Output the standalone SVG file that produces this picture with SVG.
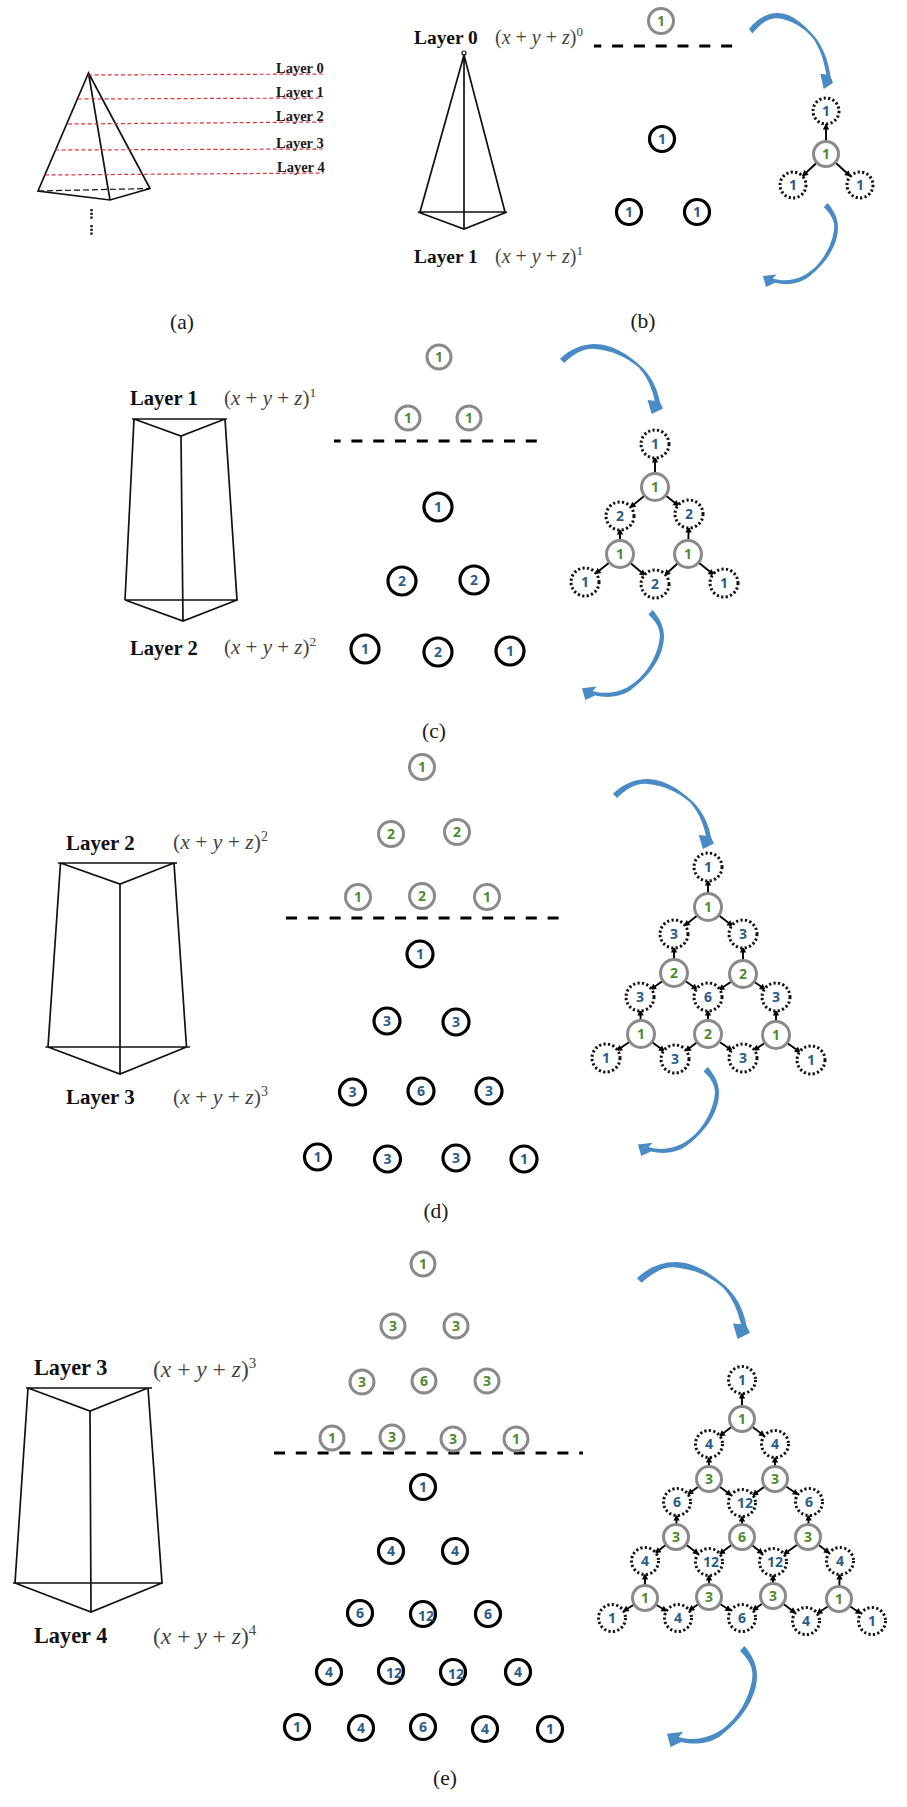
<svg xmlns="http://www.w3.org/2000/svg" width="907" height="1807" viewBox="0 0 907 1807">
<style>
text{font-family:"Liberation Serif","Times New Roman",serif}
.p{fill:none;stroke:#111;stroke-width:1.7;stroke-linejoin:miter}
.r{fill:none;stroke:#d8343f;stroke-width:1.2;stroke-dasharray:4 2.6}
.sep{fill:none;stroke:#000;stroke-width:3;stroke-dasharray:11 10.8}
.l{font-weight:bold;fill:#111}
.a{font-weight:bold;font-size:14.5px;fill:#1a1a1a}
.m{fill:#444}
.i{font-style:italic}
.cap{font-size:21.5px;fill:#1a1a1a;text-anchor:middle}
.g,.k,.d{fill:#fff}
.g{stroke:#8a8a8a;stroke-width:3}
.k{stroke:#000;stroke-width:3.2}
.d{stroke:#111;stroke-width:3;stroke-dasharray:2.2 2.3}
.n,.t{font-family:"Open Sans","DejaVu Sans",sans-serif;font-weight:bold;font-size:14px;text-anchor:middle}
.n{fill:#4f8a2f}
.t{fill:#2c5c87}
.e{stroke:#000;stroke-width:1.9;marker-end:url(#h)}
.b{fill:#4a8bc5}
</style>
<defs>
<marker id="h" markerUnits="userSpaceOnUse" markerWidth="24" markerHeight="8" viewBox="0 -4 24 8" refX="18.5" refY="0" orient="auto" overflow="visible"><path d="M0,-3.2L6,0L0,3.2z" fill="#000"/></marker>
<path id="arrTop" d="M0,21C10,7 22,0 34,0C50,0 65,14 78,31C87,43 94,60 97,83L100,92L89,100L85,80L92,81C89,62 85,48 76,33C64,18 50,9 34,7C22,6 13,15 4,27Z"/>
<path id="arrBot" d="M86,0C94,8 100,18 100,29C100,52 82,74 58,90C45,97 30,98 16,95L4,100L0,87L18,85L13,90C28,94 42,92 55,86C76,76 93,52 95,29C95,22 92,14 81,5Z"/>
</defs>
<rect width="907" height="1807" fill="#fff"/>

<g id="panel-a">
<path class="p" d="M88.5,73L38,191L110,200L150,188.5Z M88.5,73L110,200"/>
<path d="M38,191L150,188.5" fill="none" stroke="#111" stroke-width="1.2" stroke-dasharray="6 3"/>
<path class="r" d="M88,75L324,74M78,99L323,98M68,124L324,122M55,150L324,149M45,175L324,173"/>
<path d="M91.5,209V219M91.5,225V235" fill="none" stroke="#111" stroke-width="2.4" stroke-dasharray="2.2 1.6"/>
<text class="a" x="276" y="73">Layer 0</text>
<text class="a" x="276" y="97">Layer 1</text>
<text class="a" x="276" y="121">Layer 2</text>
<text class="a" x="276" y="148">Layer 3</text>
<text class="a" x="277" y="172">Layer 4</text>
<text class="cap" x="182" y="329">(a)</text>
</g>

<g id="panel-b">
<text class="l" x="414" y="44" font-size="19.4">Layer 0</text>
<text class="l" x="414" y="263" font-size="19.4">Layer 1</text>
<text class="m" x="495" y="44" font-size="20">(<tspan class="i">x</tspan> + <tspan class="i">y</tspan> + <tspan class="i">z</tspan>)<tspan font-size="13" dy="-8">0</tspan></text>
<text class="m" x="495" y="263" font-size="20">(<tspan class="i">x</tspan> + <tspan class="i">y</tspan> + <tspan class="i">z</tspan>)<tspan font-size="13" dy="-8">1</tspan></text>
<circle cx="464" cy="53" r="2" fill="#fff" stroke="#111" stroke-width="1.2"/>
<path class="p" d="M464,55L420,212H505L464,55V229M418,212L464,229L507,212"/>
<path class="sep" d="M594,46H733" stroke-dashoffset="3.7"/>
<text class="cap" x="643" y="328">(b)</text>
<use href="#arrTop" class="b" transform="translate(749,13) scale(.84,.76)"/>
<use href="#arrBot" class="b" transform="translate(763,203) scale(.75,.84)"/>
</g>

<g id="panel-c">
<text class="l" x="130" y="405" font-size="20.6">Layer 1</text>
<text class="l" x="130" y="655" font-size="20.6">Layer 2</text>
<text class="m" x="224" y="405" font-size="21">(<tspan class="i">x</tspan> + <tspan class="i">y</tspan> + <tspan class="i">z</tspan>)<tspan font-size="13.5" dy="-8">1</tspan></text>
<text class="m" x="224" y="654" font-size="21">(<tspan class="i">x</tspan> + <tspan class="i">y</tspan> + <tspan class="i">z</tspan>)<tspan font-size="13.5" dy="-8">2</tspan></text>
<path class="p" d="M132,419H227M134,419L181,436L225,419M134,419L125,600M225,419L237,600M181,436L183,621M125,600H238M125,600L183,621L237,600"/>
<path class="sep" d="M334,441H537" stroke-dashoffset="4.4"/>
<text class="cap" x="434" y="738">(c)</text>
<use href="#arrTop" class="b" transform="translate(560,344) scale(1.03,.7)"/>
<use href="#arrBot" class="b" transform="translate(582,610) scale(.82,.9)"/>
</g>

<g id="panel-d">
<text class="l" x="66" y="850" font-size="20.9">Layer 2</text>
<text class="l" x="66" y="1104" font-size="20.9">Layer 3</text>
<text class="m" x="173" y="849" font-size="21.6">(<tspan class="i">x</tspan> + <tspan class="i">y</tspan> + <tspan class="i">z</tspan>)<tspan font-size="14" dy="-8">2</tspan></text>
<text class="m" x="173" y="1104" font-size="21.6">(<tspan class="i">x</tspan> + <tspan class="i">y</tspan> + <tspan class="i">z</tspan>)<tspan font-size="14" dy="-8">3</tspan></text>
<path class="p" d="M58,863H177M60.5,863L120,884L174,863M60.5,863L48,1047M174,863L186.5,1047M120,884V1074M45.5,1047H190M48,1047L120,1074L186.5,1047"/>
<path class="sep" d="M286,918H561"/>
<text class="cap" x="436" y="1218">(d)</text>
<use href="#arrTop" class="b" transform="translate(613,779) scale(1.01,.7)"/>
<use href="#arrBot" class="b" transform="translate(638,1067) scale(.81,.89)"/>
</g>

<g id="panel-e">
<text class="l" x="34" y="1375" font-size="22.3">Layer 3</text>
<text class="l" x="34" y="1643" font-size="22.3">Layer 4</text>
<text class="m" x="153" y="1377" font-size="23.5">(<tspan class="i">x</tspan> + <tspan class="i">y</tspan> + <tspan class="i">z</tspan>)<tspan font-size="15" dy="-9">3</tspan></text>
<text class="m" x="153" y="1644" font-size="23.5">(<tspan class="i">x</tspan> + <tspan class="i">y</tspan> + <tspan class="i">z</tspan>)<tspan font-size="15" dy="-9">4</tspan></text>
<path class="p" d="M26,1388H152M28,1388L90,1411L148,1388M28,1388L15,1583M148,1388L162,1583M90,1411L91,1612M13,1583H163M15,1583L91,1612L162,1583"/>
<path class="sep" d="M274,1453H583"/>
<text class="cap" x="445" y="1785">(e)</text>
<use href="#arrTop" class="b" transform="translate(637,1262) scale(1.13,.77)"/>
<use href="#arrBot" class="b" transform="translate(667,1646) scale(.9,1.01)"/>
</g>

<g id="connectors">
<line class="e" x1="826" y1="154" x2="826" y2="111"/><line class="e" x1="826" y1="154" x2="793" y2="185"/><line class="e" x1="826" y1="154" x2="860" y2="185"/>

<line class="e" x1="655" y1="487" x2="655" y2="444"/><line class="e" x1="655" y1="487" x2="620" y2="516"/><line class="e" x1="655" y1="487" x2="689" y2="514"/>
<line class="e" x1="620" y1="554" x2="620" y2="516"/><line class="e" x1="620" y1="554" x2="585" y2="582"/><line class="e" x1="620" y1="554" x2="655" y2="584"/>
<line class="e" x1="688" y1="554" x2="689" y2="514"/><line class="e" x1="688" y1="554" x2="655" y2="584"/><line class="e" x1="688" y1="554" x2="724" y2="583"/>

<line class="e" x1="708" y1="907" x2="708" y2="867"/><line class="e" x1="708" y1="907" x2="674" y2="934"/><line class="e" x1="708" y1="907" x2="743" y2="934"/>
<line class="e" x1="674" y1="973" x2="674" y2="934"/><line class="e" x1="674" y1="973" x2="640" y2="997"/><line class="e" x1="674" y1="973" x2="708" y2="997"/>
<line class="e" x1="743" y1="974" x2="743" y2="934"/><line class="e" x1="743" y1="974" x2="708" y2="997"/><line class="e" x1="743" y1="974" x2="776" y2="997"/>
<line class="e" x1="641" y1="1034" x2="640" y2="997"/><line class="e" x1="641" y1="1034" x2="606" y2="1058"/><line class="e" x1="641" y1="1034" x2="675" y2="1059"/>
<line class="e" x1="708" y1="1034" x2="708" y2="997"/><line class="e" x1="708" y1="1034" x2="675" y2="1059"/><line class="e" x1="708" y1="1034" x2="743" y2="1058"/>
<line class="e" x1="776" y1="1035" x2="776" y2="997"/><line class="e" x1="776" y1="1035" x2="743" y2="1058"/><line class="e" x1="776" y1="1035" x2="811" y2="1060"/>

<line class="e" x1="742" y1="1419" x2="742" y2="1380"/><line class="e" x1="742" y1="1419" x2="709" y2="1444"/><line class="e" x1="742" y1="1419" x2="775" y2="1444"/>
<line class="e" x1="709" y1="1479" x2="709" y2="1444"/><line class="e" x1="709" y1="1479" x2="677" y2="1502"/><line class="e" x1="709" y1="1479" x2="742" y2="1503"/>
<line class="e" x1="775" y1="1479" x2="775" y2="1444"/><line class="e" x1="775" y1="1479" x2="742" y2="1503"/><line class="e" x1="775" y1="1479" x2="809" y2="1502"/>
<line class="e" x1="676" y1="1537" x2="677" y2="1502"/><line class="e" x1="676" y1="1537" x2="645" y2="1561"/><line class="e" x1="676" y1="1537" x2="709" y2="1562"/>
<line class="e" x1="742" y1="1537" x2="742" y2="1503"/><line class="e" x1="742" y1="1537" x2="709" y2="1562"/><line class="e" x1="742" y1="1537" x2="773" y2="1562"/>
<line class="e" x1="808" y1="1537" x2="809" y2="1502"/><line class="e" x1="808" y1="1537" x2="773" y2="1562"/><line class="e" x1="808" y1="1537" x2="840" y2="1561"/>
<line class="e" x1="645" y1="1598" x2="645" y2="1561"/><line class="e" x1="645" y1="1598" x2="612" y2="1618"/><line class="e" x1="645" y1="1598" x2="678" y2="1618"/>
<line class="e" x1="709" y1="1597" x2="709" y2="1562"/><line class="e" x1="709" y1="1597" x2="678" y2="1618"/><line class="e" x1="709" y1="1597" x2="742" y2="1618"/>
<line class="e" x1="773" y1="1596" x2="773" y2="1562"/><line class="e" x1="773" y1="1596" x2="742" y2="1618"/><line class="e" x1="773" y1="1596" x2="806" y2="1621"/>
<line class="e" x1="839" y1="1599" x2="840" y2="1561"/><line class="e" x1="839" y1="1599" x2="806" y2="1621"/><line class="e" x1="839" y1="1599" x2="872" y2="1621"/>
</g>

<g id="nodes-b">
<g id="b-u1"><circle class="g" cx="661" cy="21" r="12.5"/><text class="n" x="661" y="26">1</text></g>
<g id="b-l1"><circle class="k" cx="662" cy="139" r="12.5"/><text class="t" x="662" y="144">1</text></g>
<g id="b-l2"><circle class="k" cx="629" cy="212" r="12.5"/><text class="t" x="629" y="217">1</text></g>
<g id="b-l3"><circle class="k" cx="697" cy="212" r="12.5"/><text class="t" x="697" y="217">1</text></g>
<g id="b-t1"><circle class="d" cx="826" cy="111" r="13"/><text class="t" x="826" y="116">1</text></g>
<g id="b-t2"><circle class="g" cx="826" cy="154" r="12.5"/><text class="n" x="826" y="159">1</text></g>
<g id="b-t3"><circle class="d" cx="793" cy="185" r="13"/><text class="t" x="793" y="190">1</text></g>
<g id="b-t4"><circle class="d" cx="860" cy="185" r="13"/><text class="t" x="860" y="190">1</text></g>
</g>

<g id="nodes-c">
<g id="c-u1"><circle class="g" cx="439" cy="357" r="12"/><text class="n" x="439" y="362">1</text></g>
<g id="c-u2"><circle class="g" cx="408" cy="418" r="12"/><text class="n" x="408" y="423">1</text></g>
<g id="c-u3"><circle class="g" cx="469" cy="418" r="12"/><text class="n" x="469" y="423">1</text></g>
<g id="c-l1"><circle class="k" cx="438" cy="507" r="14"/><text class="t" x="438" y="512">1</text></g>
<g id="c-l2"><circle class="k" cx="402" cy="581" r="14"/><text class="t" x="402" y="586">2</text></g>
<g id="c-l3"><circle class="k" cx="474" cy="580" r="14"/><text class="t" x="474" y="585">2</text></g>
<g id="c-l4"><circle class="k" cx="365" cy="649" r="14"/><text class="t" x="365" y="654">1</text></g>
<g id="c-l5"><circle class="k" cx="438" cy="652" r="14"/><text class="t" x="438" y="657">2</text></g>
<g id="c-l6"><circle class="k" cx="510" cy="651" r="14"/><text class="t" x="510" y="656">1</text></g>
<g id="c-t1"><circle class="d" cx="655" cy="444" r="14"/><text class="t" x="655" y="449">1</text></g>
<g id="c-t2"><circle class="g" cx="655" cy="487" r="13.5"/><text class="n" x="655" y="492">1</text></g>
<g id="c-t3"><circle class="d" cx="620" cy="516" r="14"/><text class="t" x="620" y="521">2</text></g>
<g id="c-t4"><circle class="d" cx="689" cy="514" r="14"/><text class="t" x="689" y="519">2</text></g>
<g id="c-t5"><circle class="g" cx="620" cy="554" r="13.5"/><text class="n" x="620" y="559">1</text></g>
<g id="c-t6"><circle class="g" cx="688" cy="554" r="13.5"/><text class="n" x="688" y="559">1</text></g>
<g id="c-t7"><circle class="d" cx="585" cy="582" r="14"/><text class="t" x="585" y="587">1</text></g>
<g id="c-t8"><circle class="d" cx="655" cy="584" r="14"/><text class="t" x="655" y="589">2</text></g>
<g id="c-t9"><circle class="d" cx="724" cy="583" r="14"/><text class="t" x="724" y="588">1</text></g>
</g>

<g id="nodes-d">
<g id="d-u1"><circle class="g" cx="422" cy="767" r="12.5"/><text class="n" x="422" y="772">1</text></g>
<g id="d-u2"><circle class="g" cx="391" cy="834" r="12.5"/><text class="n" x="391" y="839">2</text></g>
<g id="d-u3"><circle class="g" cx="457" cy="832" r="12.5"/><text class="n" x="457" y="837">2</text></g>
<g id="d-u4"><circle class="g" cx="358" cy="897" r="12.5"/><text class="n" x="358" y="902">1</text></g>
<g id="d-u5"><circle class="g" cx="422" cy="896" r="12.5"/><text class="n" x="422" y="901">2</text></g>
<g id="d-u6"><circle class="g" cx="487" cy="897" r="12.5"/><text class="n" x="487" y="902">1</text></g>
<g id="d-l1"><circle class="k" cx="420" cy="954" r="13"/><text class="t" x="420" y="959">1</text></g>
<g id="d-l2"><circle class="k" cx="387" cy="1021" r="13"/><text class="t" x="387" y="1026">3</text></g>
<g id="d-l3"><circle class="k" cx="456" cy="1022" r="13"/><text class="t" x="456" y="1027">3</text></g>
<g id="d-l4"><circle class="k" cx="352.5" cy="1092" r="13"/><text class="t" x="352.5" y="1097">3</text></g>
<g id="d-l5"><circle class="k" cx="421" cy="1091" r="13"/><text class="t" x="421" y="1096">6</text></g>
<g id="d-l6"><circle class="k" cx="489" cy="1091" r="13"/><text class="t" x="489" y="1096">3</text></g>
<g id="d-l7"><circle class="k" cx="317.5" cy="1157" r="13"/><text class="t" x="317.5" y="1162">1</text></g>
<g id="d-l8"><circle class="k" cx="387.5" cy="1159" r="13"/><text class="t" x="387.5" y="1164">3</text></g>
<g id="d-l9"><circle class="k" cx="456" cy="1158" r="13"/><text class="t" x="456" y="1163">3</text></g>
<g id="d-l10"><circle class="k" cx="524" cy="1159" r="13"/><text class="t" x="524" y="1164">1</text></g>
<g id="d-t1"><circle class="d" cx="708" cy="867" r="14"/><text class="t" x="708" y="872">1</text></g>
<g id="d-t2"><circle class="g" cx="708" cy="907" r="13.5"/><text class="n" x="708" y="912">1</text></g>
<g id="d-t3"><circle class="d" cx="674" cy="934" r="14"/><text class="t" x="674" y="939">3</text></g>
<g id="d-t4"><circle class="d" cx="743" cy="934" r="14"/><text class="t" x="743" y="939">3</text></g>
<g id="d-t5"><circle class="g" cx="674" cy="973" r="13.5"/><text class="n" x="674" y="978">2</text></g>
<g id="d-t6"><circle class="g" cx="743" cy="974" r="13.5"/><text class="n" x="743" y="979">2</text></g>
<g id="d-t7"><circle class="d" cx="640" cy="997" r="14"/><text class="t" x="640" y="1002">3</text></g>
<g id="d-t8"><circle class="d" cx="708" cy="997" r="14"/><text class="t" x="708" y="1002">6</text></g>
<g id="d-t9"><circle class="d" cx="776" cy="997" r="14"/><text class="t" x="776" y="1002">3</text></g>
<g id="d-t10"><circle class="g" cx="641" cy="1034" r="13.5"/><text class="n" x="641" y="1039">1</text></g>
<g id="d-t11"><circle class="g" cx="708" cy="1034" r="13.5"/><text class="n" x="708" y="1039">2</text></g>
<g id="d-t12"><circle class="g" cx="776" cy="1035" r="13.5"/><text class="n" x="776" y="1040">1</text></g>
<g id="d-t13"><circle class="d" cx="606" cy="1058" r="14"/><text class="t" x="606" y="1063">1</text></g>
<g id="d-t14"><circle class="d" cx="675" cy="1059" r="14"/><text class="t" x="675" y="1064">3</text></g>
<g id="d-t15"><circle class="d" cx="743" cy="1058" r="14"/><text class="t" x="743" y="1063">3</text></g>
<g id="d-t16"><circle class="d" cx="811" cy="1060" r="14"/><text class="t" x="811" y="1065">1</text></g>
</g>

<g id="nodes-e">
<g id="e-u1"><circle class="g" cx="423" cy="1264" r="12"/><text class="n" x="423" y="1269">1</text></g>
<g id="e-u2"><circle class="g" cx="393" cy="1326" r="12"/><text class="n" x="393" y="1331">3</text></g>
<g id="e-u3"><circle class="g" cx="456" cy="1326" r="12"/><text class="n" x="456" y="1331">3</text></g>
<g id="e-u4"><circle class="g" cx="362" cy="1382" r="12"/><text class="n" x="362" y="1387">3</text></g>
<g id="e-u5"><circle class="g" cx="424" cy="1381" r="12"/><text class="n" x="424" y="1386">6</text></g>
<g id="e-u6"><circle class="g" cx="487" cy="1381" r="12"/><text class="n" x="487" y="1386">3</text></g>
<g id="e-u7"><circle class="g" cx="332" cy="1438" r="12"/><text class="n" x="332" y="1443">1</text></g>
<g id="e-u8"><circle class="g" cx="392" cy="1437" r="12"/><text class="n" x="392" y="1442">3</text></g>
<g id="e-u9"><circle class="g" cx="453" cy="1439" r="12"/><text class="n" x="453" y="1444">3</text></g>
<g id="e-u10"><circle class="g" cx="516" cy="1439" r="12"/><text class="n" x="516" y="1444">1</text></g>
<g id="e-l1"><circle class="k" cx="423" cy="1487" r="12.5"/><text class="t" x="423" y="1492">1</text></g>
<g id="e-l2"><circle class="k" cx="391" cy="1551" r="12.5"/><text class="t" x="391" y="1556">4</text></g>
<g id="e-l3"><circle class="k" cx="455" cy="1551" r="12.5"/><text class="t" x="455" y="1556">4</text></g>
<g id="e-l4"><circle class="k" cx="360" cy="1613" r="12.5"/><text class="t" x="360" y="1618">6</text></g>
<g id="e-l5"><circle class="k" cx="423" cy="1614" r="12.5"/><text class="t" x="426" y="1621">12</text></g>
<g id="e-l6"><circle class="k" cx="488" cy="1614" r="12.5"/><text class="t" x="488" y="1619">6</text></g>
<g id="e-l7"><circle class="k" cx="329" cy="1672" r="12.5"/><text class="t" x="329" y="1677">4</text></g>
<g id="e-l8"><circle class="k" cx="391" cy="1671" r="12.5"/><text class="t" x="394" y="1678">12</text></g>
<g id="e-l9"><circle class="k" cx="453" cy="1672" r="12.5"/><text class="t" x="456" y="1679">12</text></g>
<g id="e-l10"><circle class="k" cx="518" cy="1672" r="12.5"/><text class="t" x="518" y="1677">4</text></g>
<g id="e-l11"><circle class="k" cx="297" cy="1727" r="12.5"/><text class="t" x="297" y="1732">1</text></g>
<g id="e-l12"><circle class="k" cx="361" cy="1728" r="12.5"/><text class="t" x="361" y="1733">4</text></g>
<g id="e-l13"><circle class="k" cx="423" cy="1727" r="12.5"/><text class="t" x="423" y="1732">6</text></g>
<g id="e-l14"><circle class="k" cx="485" cy="1729" r="12.5"/><text class="t" x="485" y="1734">4</text></g>
<g id="e-l15"><circle class="k" cx="550" cy="1729" r="12.5"/><text class="t" x="550" y="1734">1</text></g>
<g id="e-t1"><circle class="d" cx="742" cy="1380" r="13.5"/><text class="t" x="742" y="1385">1</text></g>
<g id="e-t2"><circle class="g" cx="742" cy="1419" r="12.5"/><text class="n" x="742" y="1424">1</text></g>
<g id="e-t3"><circle class="d" cx="709" cy="1444" r="13.5"/><text class="t" x="709" y="1449">4</text></g>
<g id="e-t4"><circle class="d" cx="775" cy="1444" r="13.5"/><text class="t" x="775" y="1449">4</text></g>
<g id="e-t5"><circle class="g" cx="709" cy="1479" r="12.5"/><text class="n" x="709" y="1484">3</text></g>
<g id="e-t6"><circle class="g" cx="775" cy="1479" r="12.5"/><text class="n" x="775" y="1484">3</text></g>
<g id="e-t7"><circle class="d" cx="677" cy="1502" r="13.5"/><text class="t" x="677" y="1507">6</text></g>
<g id="e-t8"><circle class="d" cx="742" cy="1503" r="13.5"/><text class="t" x="745" y="1508">12</text></g>
<g id="e-t9"><circle class="d" cx="809" cy="1502" r="13.5"/><text class="t" x="809" y="1507">6</text></g>
<g id="e-t10"><circle class="g" cx="676" cy="1537" r="12.5"/><text class="n" x="676" y="1542">3</text></g>
<g id="e-t11"><circle class="g" cx="742" cy="1537" r="12.5"/><text class="n" x="742" y="1542">6</text></g>
<g id="e-t12"><circle class="g" cx="808" cy="1537" r="12.5"/><text class="n" x="808" y="1542">3</text></g>
<g id="e-t13"><circle class="d" cx="645" cy="1561" r="13.5"/><text class="t" x="645" y="1566">4</text></g>
<g id="e-t14"><circle class="d" cx="709" cy="1562" r="13.5"/><text class="t" x="711" y="1567">12</text></g>
<g id="e-t15"><circle class="d" cx="773" cy="1562" r="13.5"/><text class="t" x="775" y="1567">12</text></g>
<g id="e-t16"><circle class="d" cx="840" cy="1561" r="13.5"/><text class="t" x="840" y="1566">4</text></g>
<g id="e-t17"><circle class="g" cx="645" cy="1598" r="12.5"/><text class="n" x="645" y="1603">1</text></g>
<g id="e-t18"><circle class="g" cx="709" cy="1597" r="12.5"/><text class="n" x="709" y="1602">3</text></g>
<g id="e-t19"><circle class="g" cx="773" cy="1596" r="12.5"/><text class="n" x="773" y="1601">3</text></g>
<g id="e-t20"><circle class="g" cx="839" cy="1599" r="12.5"/><text class="n" x="839" y="1604">1</text></g>
<g id="e-t21"><circle class="d" cx="612" cy="1618" r="13.5"/><text class="t" x="612" y="1623">1</text></g>
<g id="e-t22"><circle class="d" cx="678" cy="1618" r="13.5"/><text class="t" x="678" y="1623">4</text></g>
<g id="e-t23"><circle class="d" cx="742" cy="1618" r="13.5"/><text class="t" x="742" y="1623">6</text></g>
<g id="e-t24"><circle class="d" cx="806" cy="1621" r="13.5"/><text class="t" x="806" y="1626">4</text></g>
<g id="e-t25"><circle class="d" cx="872" cy="1621" r="13.5"/><text class="t" x="872" y="1626">1</text></g>
</g>
</svg>
